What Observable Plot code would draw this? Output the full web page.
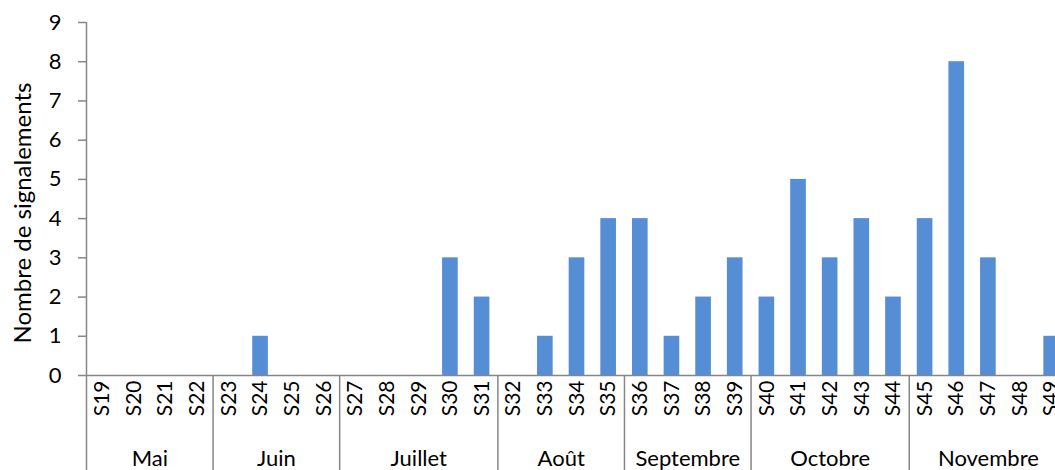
<!DOCTYPE html>
<html><head><meta charset="utf-8">
<script src="https://cdn.jsdelivr.net/npm/d3@7"></script>
<script src="https://cdn.jsdelivr.net/npm/@observablehq/plot@0.6"></script>
<style>html,body{margin:0;padding:0;background:#fff;overflow:hidden;}</style>
</head><body><div id="chart"></div>
<script>
const weeks = ["S19","S20","S21","S22","S23","S24","S25","S26","S27","S28","S29","S30","S31","S32","S33","S34","S35","S36","S37","S38","S39","S40","S41","S42","S43","S44","S45","S46","S47","S48","S49"];
const counts = [0,0,0,0,0,1,0,0,0,0,0,3,2,0,1,3,4,4,1,2,3,2,5,3,4,2,4,8,3,0,1];
const months = ["Mai","Juin","Juillet","Août","Septembre","Octobre","Novembre"];
const weeksPerMonth = [4,4,5,4,4,5,5];
const yTicks = [0,1,2,3,4,5,6,7,8,9];
const yLabel = "Nombre de signalements";

const rows = weeks.map((w, i) => ({i, week: w, count: counts[i]}));
let acc = 0;
const monthRows = months.map((m, k) => {
  const start = acc; acc += weeksPerMonth[k];
  return {month: m, start, end: acc, mid: (start + acc) / 2};
});
const gray = "#868686";
const depth = -2.5;

const chart = Plot.plot({
  width: 1055, height: 470,
  marginLeft: 86, marginRight: -12, marginTop: 22, marginBottom: 95,
  style: {fontFamily: "Lato, 'Open Sans', sans-serif", background: "#fff", color: "#000"},
  x: {domain: [0, weeks.length], axis: null},
  y: {domain: [0, 9], axis: null},
  marks: [
    Plot.rectY(rows.filter(d => d.count > 0), {x1: "i", x2: d => d.i + 1, y: "count", insetLeft: 8, insetRight: 8, fill: "#558ed5"}),
    Plot.ruleY([0], {stroke: gray, strokeWidth: 1.5}),
    Plot.ruleX(monthRows, {x: "start", y1: depth, y2: (d, k) => k === 0 ? 9 : 0, stroke: gray, strokeWidth: 1.5}),
    Plot.axisY({ticks: yTicks, tickSize: 8, tickPadding: 17, fontSize: 22, stroke: gray, fill: "#000", label: null, strokeWidth: 1.5}),
    Plot.text(rows, {x: d => d.i + 0.5, text: "week", frameAnchor: "bottom", lineAnchor: "middle", rotate: -90, textAnchor: "end", dy: 5, fontSize: 21, fill: "#000"}),
    Plot.text(monthRows, {x: "mid", text: "month", frameAnchor: "bottom", lineAnchor: "middle", dy: 83, fontSize: 22, fill: "#000"}),
    Plot.text([yLabel], {frameAnchor: "left", lineAnchor: "middle", textAnchor: "middle", rotate: -90, dx: -63, dy: 14, fontSize: 24, fill: "#000"})
  ]
});
document.getElementById("chart").appendChild(chart);
</script></body></html>
